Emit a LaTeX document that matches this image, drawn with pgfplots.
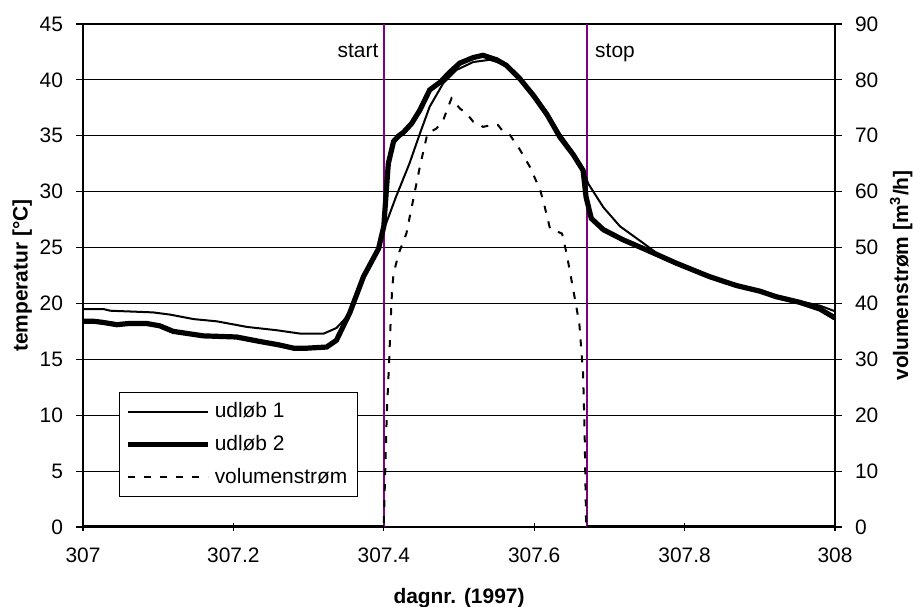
\documentclass[border=0pt]{standalone}
\usepackage{pgfplots}
\pgfplotsset{compat=1.18}
\usepackage{fontspec}
\setmainfont{Liberation Sans}
\definecolor{startstop}{HTML}{800080}
\newcommand\fs{\fontsize{10.5}{12.6}\selectfont}
\newcommand\fl{\fontsize{10.5}{12.6}\selectfont}
\pgfplotstableread{
x y
307.000 19.5
307.027 19.5
307.036 19.35
307.093 19.2
307.116 19.0
307.147 18.6
307.178 18.4
307.218 17.9
307.258 17.6
307.289 17.3
307.320 17.3
307.337 17.8
307.355 19.1
307.373 22.2
307.393 24.9
307.400 26.6
307.416 29.5
307.434 32.5
307.448 35.2
307.461 37.6
307.479 39.7
307.497 40.9
307.519 41.6
307.541 41.8
307.555 41.5
307.566 41.2
307.581 40.2
307.599 38.8
307.617 37.1
307.634 35.2
307.652 33.5
307.665 32.0
307.672 30.7
307.692 28.6
307.714 26.9
307.745 25.4
307.767 24.3
307.789 23.6
307.833 22.4
307.869 21.6
307.900 21.1
307.922 20.7
307.953 20.2
307.980 19.8
308.000 19.3
}\udlobA
\pgfplotstableread{
x y
307.000 18.4
307.015 18.4
307.027 18.3
307.045 18.1
307.060 18.2
307.085 18.2
307.102 18.0
307.120 17.5
307.140 17.3
307.160 17.1
307.204 17.0
307.235 16.6
307.260 16.3
307.280 16.0
307.298 16.0
307.324 16.1
307.337 16.7
307.355 19.2
307.373 22.4
307.393 24.9
307.400 26.9
307.404 30.7
307.406 32.5
307.413 34.5
307.420 35.0
307.426 35.3
307.437 36.1
307.448 37.3
307.461 39.1
307.475 39.8
307.488 40.7
307.501 41.5
307.519 42.0
307.532 42.2
307.550 41.8
307.563 41.3
307.581 40.1
307.599 38.6
307.617 36.9
307.634 34.9
307.652 33.3
307.665 31.9
307.669 29.5
307.676 27.6
307.692 26.6
307.718 25.7
307.749 24.8
307.789 23.6
307.833 22.4
307.869 21.6
307.900 21.1
307.922 20.6
307.953 20.1
307.980 19.5
308.000 18.7
}\udlobB
\pgfplotstableread{
x y
307.400 0.7
307.404 20.3
307.407 29.3
307.409 36.4
307.411 42.4
307.413 45.4
307.420 49.0
307.430 52.5
307.439 58.5
307.448 64.5
307.458 70.4
307.470 71.3
307.479 72.8
307.490 76.7
307.501 74.9
307.510 74.0
307.519 72.5
307.532 71.6
307.543 71.9
307.552 71.9
307.559 70.7
307.568 70.1
307.581 67.5
307.594 64.5
307.608 60.3
307.614 57.3
307.621 53.4
307.637 52.5
307.643 49.0
307.652 42.4
307.660 36.4
307.665 27.5
307.667 17.4
307.669 0.7
}\vol
\begin{document}
\begin{tikzpicture}
\pgfplotsset{
  every axis/.append style={
    scale only axis, width=376bp, height=251.5bp,
    xmin=307, xmax=308,
    axis line style={black, line width=0.6bp},
    tick style={black, line width=0.6bp},
    major tick length=3.5bp,
    tick label style={font=\fs},
    label style={font=\fl\bfseries},
    /pgf/number format/assume math mode=true,
  }
}
\begin{axis}[name=ax,
  ymin=0, ymax=45,
  xtick={307,307.2,307.4,307.6,307.8,308},
  xticklabels={307,307.2,307.4,307.6,307.8,308},
  ytick={0,5,...,45},
  ytick pos=left, xtick pos=bottom,
  xtick align=center, ytick align=outside,
  xticklabel style={yshift=-5bp},
  yticklabel style={xshift=-3bp},
  ymajorgrids, grid style={black, line width=0.5bp},
  xlabel={dagnr. (1997)},
  xlabel style={yshift=-6bp},
  ylabel={temperatur [°C]},
  ylabel style={yshift=-3bp},
  legend style={at={(0.048,0.06)}, anchor=south west, draw=black, line width=0.5bp,
    font=\fl, row sep=3.3bp, inner xsep=3bp, inner ysep=3bp, fill=white},
  legend cell align=left,
  legend image code/.code={\draw[#1] (0bp,0bp) -- (40bp,0bp);},
]
\addplot[startstop, line width=1bp, forget plot] coordinates {(307.4,0) (307.4,45)};
\addplot[startstop, line width=1bp, forget plot] coordinates {(307.67,0) (307.67,45)};
\addplot[black, line width=1bp] table {\udlobA};
\addlegendentry{udløb 1}
\addplot[black, line width=2.6bp] table {\udlobB};
\addlegendentry{udløb 2}
\addlegendimage{black, line width=1bp, dash pattern=on 3.5bp off 4.5bp}
\addlegendentry{volumenstrøm}
\node[font=\fl, anchor=east, inner sep=0pt] at (axis cs:307.4,42.6) [xshift=-2.5bp] {start};
\node[font=\fl, anchor=west, inner sep=0pt] at (axis cs:307.67,42.4) [xshift=4bp] {stop};
\end{axis}
\begin{axis}[
  ymin=0, ymax=90,
  axis x line=none,
  axis y line*=right,
  ytick={0,10,...,90},
  ytick align=outside,
  yticklabel style={xshift=3bp},
  ylabel={volumenstrøm [m\textsuperscript{3}/h]},
  ylabel style={yshift=1bp},
]
\addplot[black, line width=1bp, dash pattern=on 3.5bp off 4.5bp] table {\vol};
\addplot[black, line width=1.6bp] coordinates {(307,0) (307.4,0)};
\addplot[black, line width=1.6bp] coordinates {(307.67,0) (308,0)};
\end{axis}
\pgfresetboundingbox
\useasboundingbox ([xshift=-41.5bp,yshift=-40bp]ax.south west) rectangle ([xshift=415bp,yshift=263.5bp]ax.south west);
\end{tikzpicture}
\end{document}
